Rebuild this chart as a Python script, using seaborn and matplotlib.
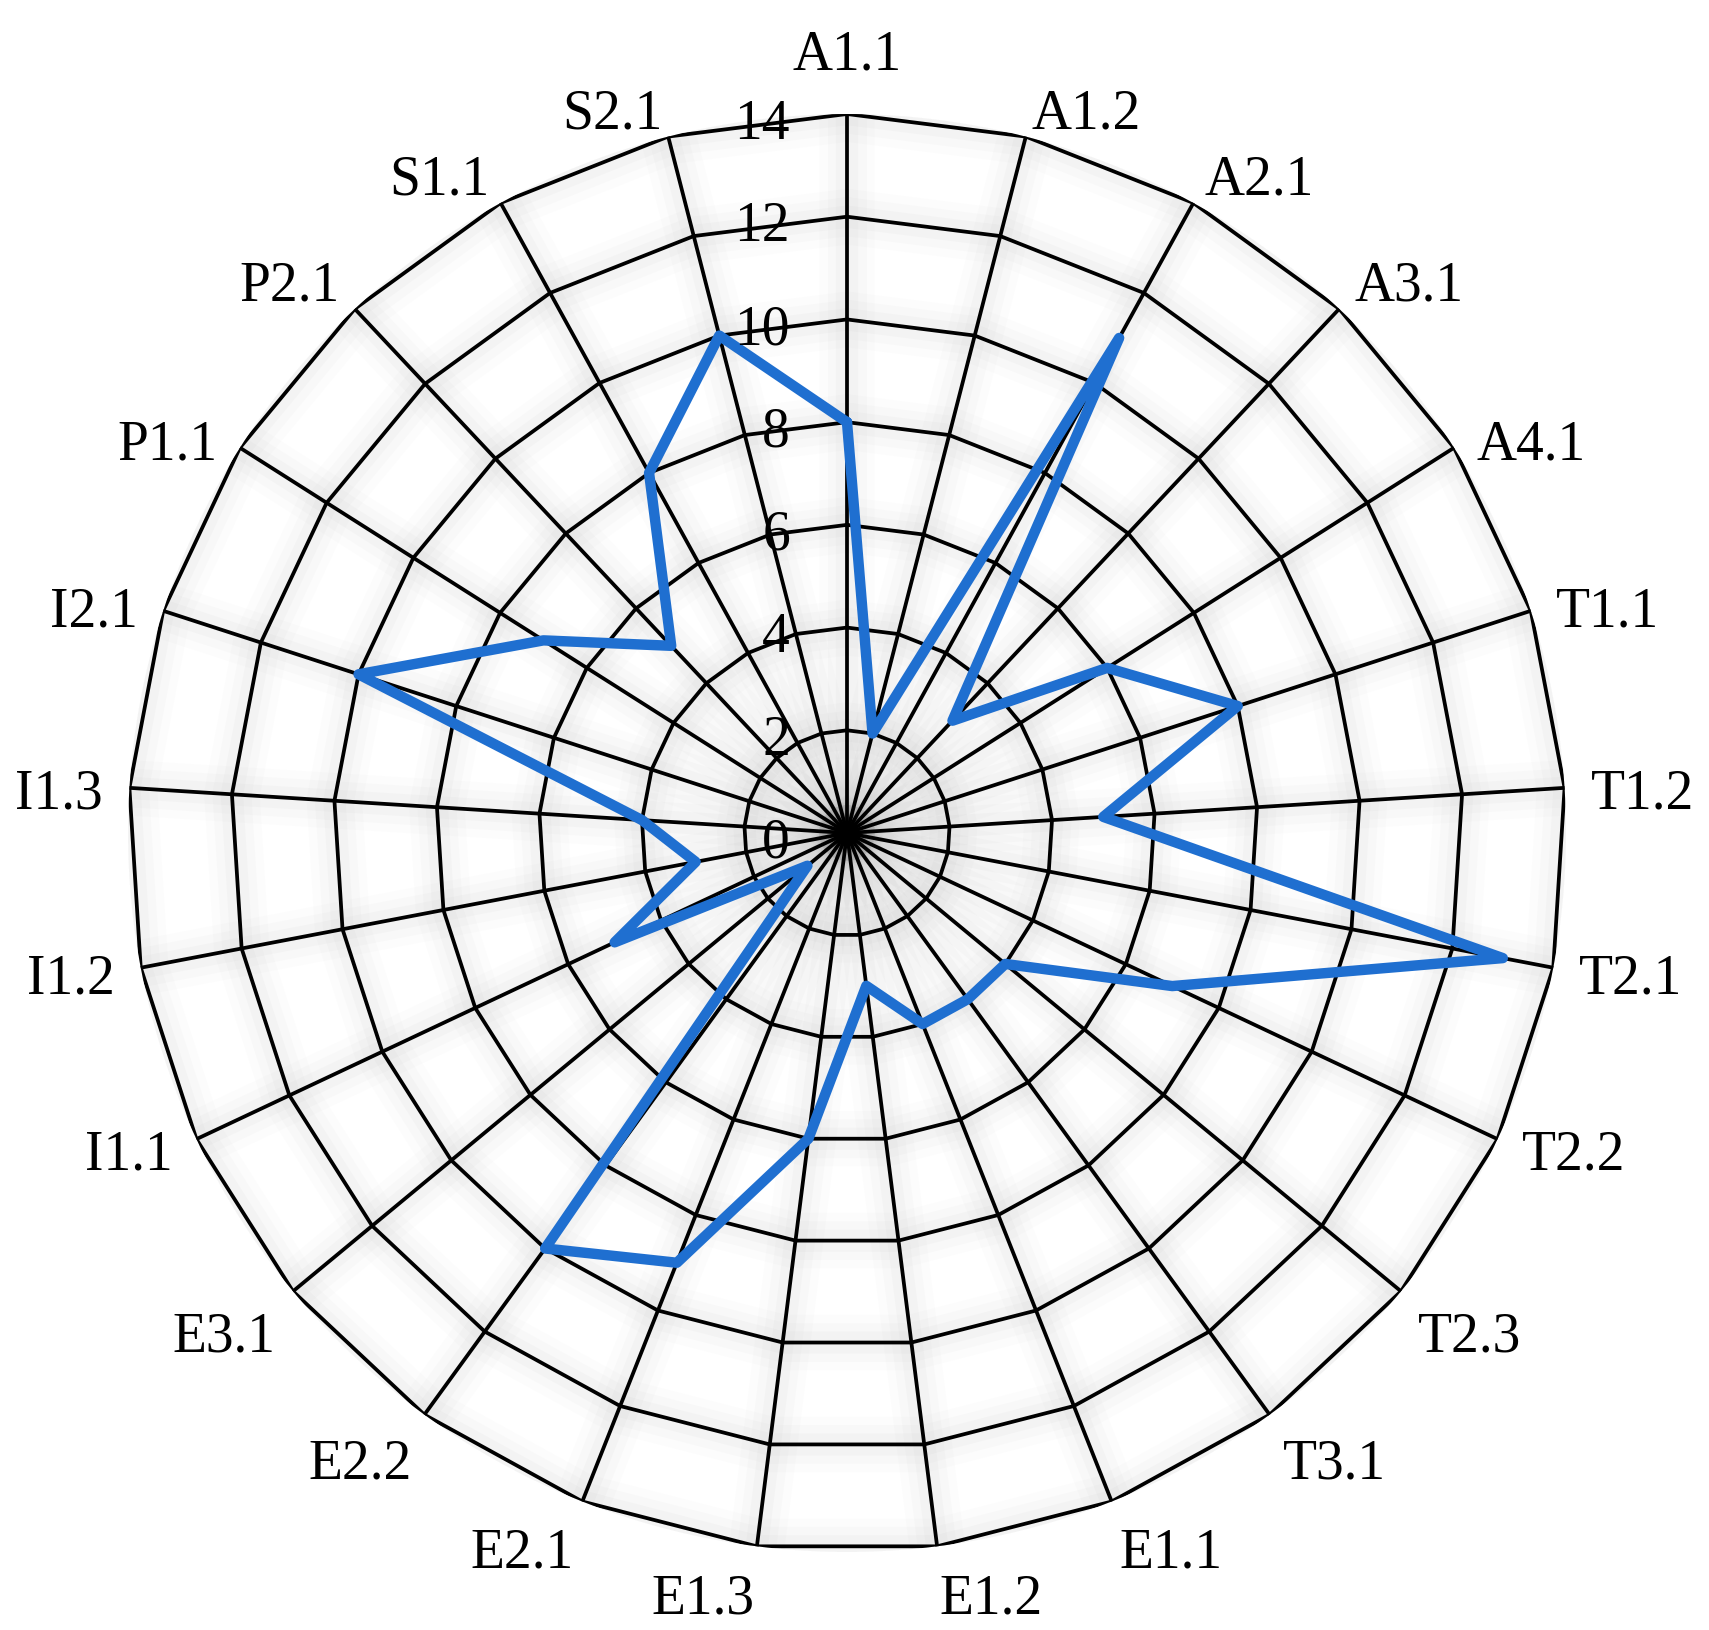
import numpy as np
import pandas as pd
import matplotlib
matplotlib.use("Agg")
import matplotlib.pyplot as plt
import seaborn as sns

# категории и значения
categories = ["A1.1", "A1.2", "A2.1", "A3.1", "A4.1", "T1.1", "T1.2", "T2.1",
              "T2.2", "T2.3", "T3.1", "E1.1", "E1.2", "E1.3", "E2.1", "E2.2",
              "E3.1", "I1.1", "I1.2", "I1.3", "I2.1", "P1.1", "P2.1", "S1.1", "S2.1"]
values = [8, 2, 11, 3, 6, 8, 5, 13, 7, 4, 4, 4, 3, 6, 9, 10, 1, 5, 3, 4, 10, 7, 5, 8, 10]
rings = [2, 4, 6, 8, 10, 12, 14]
ring_labels = ["0", "2", "4", "6", "8", "10", "12", "14"]

sns.set_style("white")
plt.rcParams["font.family"] = ["Liberation Serif", "DejaVu Serif"]
plt.rcParams["text.color"] = "black"

n = len(categories)
theta = np.linspace(0, 2 * np.pi, n, endpoint=False)
theta_c = np.append(theta, 2 * np.pi)

fig = plt.figure(figsize=(17.09, 16.31), dpi=100)
R = 719
cx, cy = 847, 1631 - 834
ax = fig.add_axes([(cx - R) / 1709, (cy - R) / 1631, 2 * R / 1709, 2 * R / 1631],
                  projection="polar")
ax.set_theta_zero_location("N")
ax.set_theta_direction(-1)
ax.set_ylim(0, 14)
ax.grid(False)
ax.spines["polar"].set_visible(False)
ax.set_xticks([])
ax.set_yticks([])
ax.patch.set_alpha(0)

# мягкая тень вокруг сетки
for lw, a in [(40, 0.02), (28, 0.028), (16, 0.035)]:
    for r in rings:
        ax.plot(theta_c, [r] * (n + 1), color="gray", lw=lw, alpha=a,
                solid_joinstyle="round", zorder=1)
    for t in theta:
        ax.plot([t, t], [0, 14], color="gray", lw=lw, alpha=a, zorder=1)

# сетка
for r in rings:
    ax.plot(theta_c, [r] * (n + 1), color="black", lw=2.7, zorder=2)
for t in theta:
    ax.plot([t, t], [0, 14], color="black", lw=2.7, zorder=2)

# данные
df = pd.DataFrame({"theta": theta_c, "value": values + values[:1]})
sns.lineplot(data=df, x="theta", y="value", sort=False, color="#1f6fd0",
             lw=7.5, ax=ax, zorder=3)
ax.set_xlabel("")
ax.set_ylabel("")

# подписи шкалы
for i, lab in enumerate(ring_labels):
    ax.annotate(lab, xy=(0, i * 2), xytext=(-41, -7), textcoords="offset points",
                ha="right", va="center", fontsize=40, color="black", zorder=4)

# подписи категорий
for t, lab in zip(theta, categories):
    s, c = np.sin(t), np.cos(t)
    ha = "left" if s > 0.05 else ("right" if s < -0.05 else "center")
    va = "bottom" if c > 0.6 else ("top" if c < -0.6 else "center")
    if abs(s) <= 0.05:
        dx, dy = 0, 24 * c - (4 if c < 0 else 0)
    elif va == "bottom":
        dx, dy = 16 * s, -2
    elif va == "top":
        dx, dy = 16 * s, 14 * c - 5
    else:
        dx, dy = 19 * s, 14 * c - 5
    ax.annotate(lab, xy=(t, 14), xytext=(dx, dy), textcoords="offset points",
                ha=ha, va=va, fontsize=40, color="black", annotation_clip=False)

plt.savefig("out.png", dpi=100)
